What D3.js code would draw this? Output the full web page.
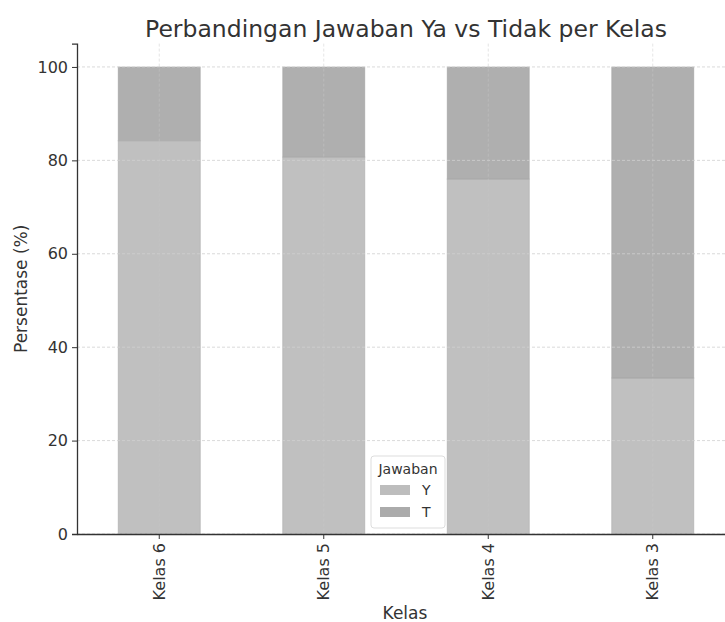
<!DOCTYPE html>
<html><head><meta charset="utf-8">
<script src="https://cdn.jsdelivr.net/npm/d3@7"></script>
<style>body{margin:0;background:#fff}svg{display:block}text{font-family:"DejaVu Sans",sans-serif;fill:#333}</style>
</head><body><svg id="c" width="725" height="622"></svg>
<script>
const categories = ["Kelas 6","Kelas 5","Kelas 4","Kelas 3"];
const seriesNames = ["Y","T"];
const valuesY = [84.2, 80.7, 76.0, 33.4];
const valuesT = [15.8, 19.3, 24.0, 66.6];
const yTicks = [0,20,40,60,80,100];
const colors = {Y:"#bdbdbd", T:"#ababab"};

const svg = d3.select("#c");
const m = {l:77, r:-10};
const W = 725;
const x = d3.scaleBand().domain(categories).range([m.l, W - m.r]).paddingInner(0.5).paddingOuter(0.25);
const y = d3.scaleLinear().domain([0,105]).range([534, 43.6]);

// grid
const g = svg.append("g");
g.selectAll(".hg").data(yTicks).enter().append("line")
  .attr("x1", m.l).attr("x2", W).attr("y1", d=>y(d)).attr("y2", d=>y(d))
  .attr("stroke","#d0d0d0").attr("stroke-dasharray","3,2").attr("stroke-width",0.8);

// stacked bars
const data = categories.map((c,i)=>({cat:c, Y:valuesY[i], T:valuesT[i]}));
const stack = d3.stack().keys(seriesNames)(data);
svg.append("g").selectAll("g").data(stack).enter().append("g")
  .attr("fill", d=>colors[d.key]).attr("fill-opacity",0.95)
  .selectAll("rect").data(d=>d).enter().append("rect")
  .attr("x", d=>x(d.data.cat)).attr("width", x.bandwidth())
  .attr("y", d=>y(d[1])).attr("height", d=>y(d[0]) - y(d[1]))
  .attr("stroke","#9a9a9a").attr("stroke-opacity",0.35).attr("stroke-width",1);

// vertical grid (faintly visible through bars)
g.raise();
g.selectAll(".vg").data(categories).enter().append("line")
  .attr("x1", d=>x(d)+x.bandwidth()/2).attr("x2", d=>x(d)+x.bandwidth()/2)
  .attr("y1", y(105)).attr("y2", y(0))
  .attr("stroke","#c8c8c8").attr("stroke-opacity",0.6).attr("stroke-dasharray","3,2").attr("stroke-width",0.8);

// axes
const yAxis = svg.append("g").attr("transform",`translate(${m.l},0)`)
  .call(d3.axisLeft(y).tickValues(yTicks).tickSize(5).tickPadding(4));
yAxis.select(".domain").attr("stroke","#333").attr("stroke-width",1.3);
yAxis.selectAll(".tick line").attr("stroke","#333");
yAxis.selectAll("text").attr("font-size",16).style("fill","#333");

const xAxis = svg.append("g").attr("transform",`translate(0,${y(0)})`)
  .call(d3.axisBottom(x).tickSize(5).tickSizeOuter(0));
xAxis.select(".domain").attr("stroke","#333").attr("stroke-width",1.3);
xAxis.selectAll(".tick line").attr("stroke","#333");
xAxis.selectAll("text").attr("font-size",16).style("fill","#333")
  .attr("transform","rotate(-90)").attr("text-anchor","end")
  .attr("x",-9).attr("y",0).attr("dy","0.35em");

// titles
svg.append("text").attr("x", 406).attr("y", 37).attr("text-anchor","middle")
  .attr("font-size",23.5).text("Perbandingan Jawaban Ya vs Tidak per Kelas");
svg.append("text").attr("x", 405).attr("y", 619).attr("text-anchor","middle")
  .attr("font-size",17).text("Kelas");
svg.append("text").attr("transform",`translate(27,${(y(0)+y(105))/2}) rotate(-90)`)
  .attr("text-anchor","middle").attr("font-size",17).text("Persentase (%)");

// legend
const lg = svg.append("g").attr("transform","translate(371,456)");
lg.append("rect").attr("width",74).attr("height",72).attr("rx",3)
  .attr("fill","#fff").attr("fill-opacity",0.85).attr("stroke","#ddd");
lg.append("text").attr("x",37).attr("y",18).attr("text-anchor","middle").attr("font-size",14).text("Jawaban");
seriesNames.forEach((s,i)=>{
  lg.append("rect").attr("x",9).attr("y",29+i*22).attr("width",30).attr("height",10).attr("fill",colors[s]);
  lg.append("text").attr("x",51).attr("y",39+i*22).attr("font-size",14).text(s);
});
</script></body></html>
